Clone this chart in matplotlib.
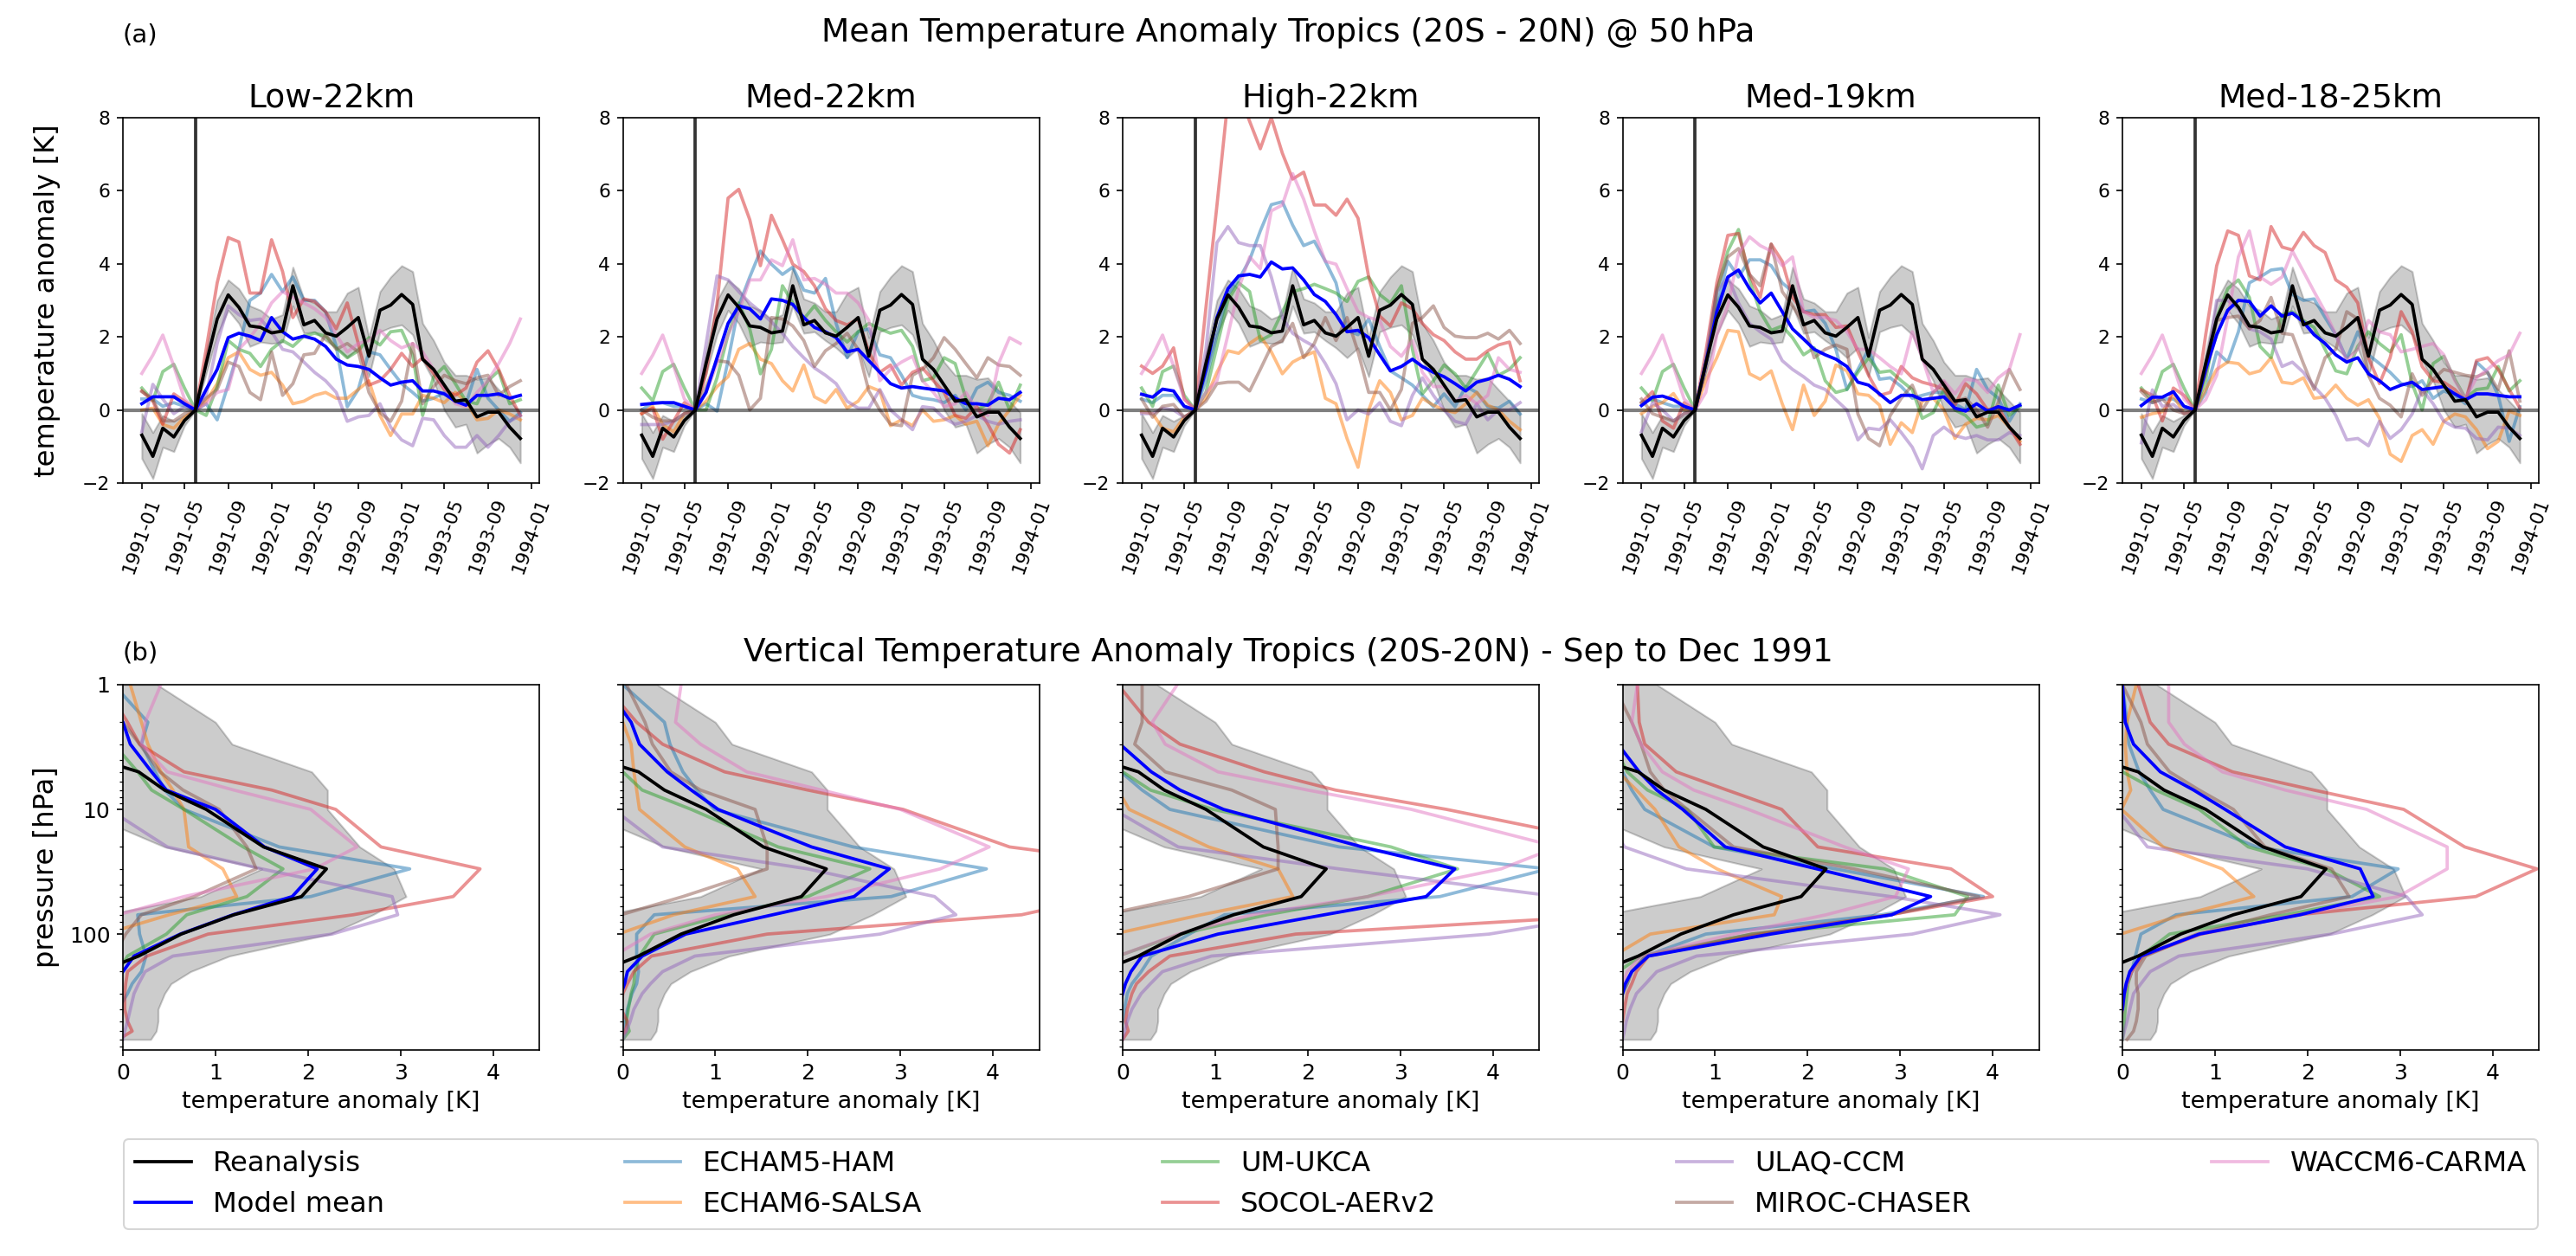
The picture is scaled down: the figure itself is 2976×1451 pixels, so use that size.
import matplotlib
matplotlib.use("Agg")
import matplotlib.pyplot as plt
import matplotlib.dates as mdates
from matplotlib.lines import Line2D
import pandas as pd

# ---------------- categories / labels ----------------
panel_titles = ["Low-22km", "Med-22km", "High-22km", "Med-19km", "Med-18-25km"]
model_names = ["ECHAM5-HAM", "ECHAM6-SALSA", "UM-UKCA", "SOCOL-AERv2",
               "ULAQ-CCM", "MIROC-CHASER", "WACCM6-CARMA"]
model_colors = ["#1f77b4", "#ff7f0e", "#2ca02c", "#d62728",
                "#9467bd", "#8c564b", "#e377c2"]
first_month = "1991-01-01"
n_months = 36
eruption_date = "1991-06-01"
plev = [1, 2, 3, 5, 7, 10, 20, 30, 50, 70, 100, 150, 200, 250, 300, 400, 500, 600, 700]

# ---------------- (a) 50 hPa time series ----------------
rean_50 = [-0.69, -1.27, -0.50, -0.74, -0.29, 0.00, 1.27, 2.49, 3.15, 2.81, 2.30, 2.26, 2.11, 2.16, 3.40, 2.33, 2.45, 2.11,
           2.02, 2.26, 2.53, 1.47, 2.73, 2.87, 3.16, 2.89, 1.39, 1.11, 0.68, 0.24, 0.28, -0.19, -0.06, -0.06, -0.47, -0.78]
rean_50_hi = [-0.10, -0.62, -0.15, -0.31, -0.15, 0.00, 1.58, 3.00, 3.56, 3.32, 2.85, 2.73, 2.49, 2.61, 3.91, 3.04, 2.93, 2.69,
              2.69, 3.20, 3.36, 1.98, 3.24, 3.64, 3.95, 3.79, 2.37, 1.90, 1.31, 0.95, 0.95, 0.84, 0.88, 0.56, 0.24, -0.07]
rean_50_lo = [-1.33, -1.88, -1.02, -1.14, -0.43, 0.00, 0.99, 2.06, 2.73, 2.37, 1.74, 1.86, 1.82, 1.86, 2.85, 2.10, 2.14, 1.90,
              1.70, 1.43, 1.70, 0.91, 2.14, 2.26, 2.33, 2.06, 1.35, 0.80, 0.00, -0.47, -0.39, -1.18, -0.94, -0.78, -1.02, -1.45]

low_mean = [0.17, 0.36, 0.36, 0.36, 0.17, 0.00, 0.56, 1.11, 1.98, 2.10, 2.02, 1.90, 2.53, 2.14, 1.94, 2.02, 1.94, 1.74,
            1.39, 1.23, 1.19, 1.11, 0.88, 0.68, 0.76, 0.80, 0.52, 0.52, 0.44, 0.24, 0.13, 0.40, 0.40, 0.44, 0.32, 0.40]
low_echam5 = [0.30, 0.30, 0.10, 0.20, 0.10, 0.00, 0.17, -0.27, 0.70, 1.66, 3.00, 3.20, 3.71, 3.24, 3.64, 3.00, 3.00, 2.69,
              1.74, 0.09, 0.56, 1.59, 1.51, 1.11, 0.72, 0.48, 0.24, 0.32, 0.48, 0.24, 0.17, 1.11, 0.32, 0.00, -0.31, -0.07]
low_echam6 = [0.00, 0.05, -0.40, -0.50, -0.20, 0.00, 0.24, 0.72, 1.43, 1.59, 1.11, 0.95, 1.03, 0.68, 0.17, 0.24, 0.40, 0.48,
              0.32, 0.32, 0.56, 0.80, -0.15, -0.70, -0.11, -0.11, 0.40, 0.32, 0.20, 0.48, 0.24, -0.27, -0.23, 0.00, -0.11, -0.27]
low_ukca = [0.60, 0.25, 1.05, 1.25, 0.60, 0.00, -0.15, 0.64, 1.90, 1.66, 1.55, 1.19, 1.66, 1.90, 1.74, 2.02, 2.10, 2.02,
            1.70, 1.43, 1.62, 1.98, 1.78, 2.14, 2.18, 1.51, -0.15, 0.91, 1.19, 0.72, 0.24, 0.17, 0.80, 1.07, 0.17, 0.28]
low_socol = [0.52, 0.24, -0.39, 0.44, 0.24, 0.00, 1.66, 3.48, 4.72, 4.60, 3.20, 3.20, 4.66, 3.79, 2.53, 3.04, 2.97, 2.69,
             2.22, 2.93, 1.82, 0.68, 0.80, 1.11, 1.55, 1.19, 1.43, 0.99, 0.56, 0.40, 0.60, 1.31, 1.62, 1.11, 0.40, -0.15]
low_ulaq = [-0.60, 0.70, 0.30, -0.10, 0.10, 0.00, 0.40, 1.82, 2.85, 2.61, 2.45, 2.49, 2.14, 1.66, 1.59, 1.31, 1.03, 0.80,
            0.48, -0.31, -0.19, -0.15, 0.17, -0.47, -0.82, -0.98, -0.23, -0.27, -0.70, -1.02, -1.02, -0.70, -1.02, -0.70, -0.31, -0.15]
low_miroc = [0.50, 0.30, -0.30, -0.30, -0.10, 0.00, 0.32, 0.56, 1.31, 1.19, 0.48, 0.28, 1.59, 0.40, 0.72, 1.51, 1.55, 2.06,
             1.66, 1.82, 1.59, 0.48, -0.07, -0.31, 0.24, 1.82, 0.17, 0.64, 0.95, 0.80, 0.72, 0.88, 0.95, 0.40, 0.64, 0.80]
low_waccm = [1.00, 1.50, 2.05, 1.20, 0.30, 0.00, 0.17, 0.48, 0.56, 1.66, 1.98, 2.37, 2.93, 3.24, 3.08, 2.93, 2.77, 2.53,
             2.06, 1.59, 1.82, 1.90, 2.18, 1.90, 1.70, 1.82, 1.59, 1.11, 0.60, 0.17, 0.09, 0.48, 0.80, 1.27, 1.82, 2.49]

med_mean = [0.15, 0.18, 0.20, 0.20, 0.10, 0.00, 0.48, 1.43, 2.37, 2.85, 2.77, 2.49, 3.04, 3.00, 2.89, 2.53, 2.26, 2.14,
            1.98, 1.59, 1.66, 1.35, 1.03, 0.72, 0.60, 0.64, 0.60, 0.56, 0.52, 0.32, 0.17, 0.17, 0.13, 0.32, 0.28, 0.48]
med_echam5 = [0.00, 0.20, 0.20, 0.10, 0.10, 0.00, 0.17, -0.03, 1.35, 2.85, 3.64, 4.35, 3.99, 3.71, 3.91, 3.28, 3.20, 3.60,
              2.37, 1.43, 2.14, 2.22, 1.51, 1.43, 0.95, 0.40, 0.32, 0.28, 0.20, 0.40, 0.00, 0.60, 0.76, 0.48, 0.40, 0.24]
med_echam6 = [-0.10, 0.10, -0.40, -0.60, -0.10, 0.00, 0.24, 0.64, 0.91, 1.66, 1.82, 1.39, 1.27, 0.80, 0.52, 1.23, 0.36, 0.20,
              0.56, 0.05, 0.24, 0.64, 0.52, -0.43, -0.27, -0.43, 0.00, -0.31, -0.27, -0.15, -0.39, -0.31, -0.98, -0.39, 0.00, 0.40]
med_ukca = [0.60, 0.25, 1.05, 1.25, 0.60, 0.00, 0.00, 0.88, 2.06, 2.93, 2.22, 0.99, 1.66, 3.40, 2.93, 2.49, 2.85, 2.45,
            2.14, 1.86, 2.14, 2.37, 2.22, 2.10, 2.18, 1.74, 0.80, 0.88, 1.43, 1.27, 0.32, 0.00, 0.17, 0.76, 0.00, 0.68]
med_socol = [-0.10, 0.05, -0.80, -0.30, 0.20, 0.00, 1.00, 2.90, 5.80, 6.04, 5.21, 3.95, 5.33, 4.66, 3.99, 3.79, 3.40, 2.77,
             2.45, 2.33, 2.49, 1.59, 1.03, 1.23, 0.68, 1.03, 1.15, 0.80, 0.48, -0.15, -0.23, 0.09, -0.39, -0.94, -1.18, -0.54]
med_ulaq = [-0.40, -0.40, -0.40, -0.30, -0.10, 0.00, 1.80, 3.67, 3.56, 3.24, 2.93, 2.69, 2.41, 2.10, 1.74, 1.43, 1.15, 0.95,
            0.72, 0.24, 0.05, 0.05, 0.56, 0.00, -0.27, -0.54, 0.09, 0.05, -0.23, -0.39, -0.31, -0.15, -0.31, -0.39, -0.31, -0.27]
med_miroc = [0.00, -0.20, -0.30, -0.30, -0.10, 0.00, 0.64, 1.35, 1.31, 0.95, 0.00, 0.32, 2.53, 2.49, 2.30, 1.90, 1.19, 1.62,
             1.82, 2.10, 1.66, 0.52, 0.00, -0.39, -0.43, 0.95, 1.11, 1.43, 1.98, 1.66, 1.27, 0.88, 1.43, 1.23, 1.19, 0.95]
med_waccm = [1.00, 1.50, 2.05, 1.20, 0.30, 0.00, 0.48, 1.27, 2.06, 2.69, 3.56, 3.56, 4.11, 3.95, 4.66, 3.56, 3.60, 3.44,
             3.20, 3.20, 2.93, 2.45, 0.80, 1.11, 1.31, 1.47, 0.80, 0.48, 0.09, 0.17, 0.48, 0.00, -0.15, 1.27, 1.98, 1.82]

high_mean = [0.43, 0.35, 0.57, 0.52, 0.10, 0.00, 1.11, 2.53, 3.32, 3.67, 3.71, 3.64, 4.05, 3.86, 3.89, 3.56, 3.16, 2.97,
             2.61, 2.14, 2.18, 1.98, 1.51, 1.07, 1.19, 1.39, 1.19, 1.03, 0.91, 0.72, 0.52, 0.76, 0.84, 0.95, 0.84, 0.64]
high_echam5 = [0.30, 0.20, 0.40, 0.40, 0.10, 0.00, 0.80, 2.06, 3.16, 3.56, 4.11, 4.90, 5.62, 5.70, 5.06, 4.50, 4.62, 4.07,
               3.48, 2.18, 2.06, 2.49, 1.74, 1.07, 0.88, 0.68, 0.40, 0.09, 0.44, 0.09, 0.64, 0.48, 0.09, 0.05, 0.24, -0.11]
high_echam6 = [-0.05, -0.10, -0.50, -0.60, -0.20, 0.00, 0.32, 1.03, 1.62, 1.55, 1.82, 2.02, 1.59, 0.99, 1.31, 1.47, 1.59, 0.32,
               0.17, -0.78, -1.57, 0.00, 0.80, 0.48, -0.27, -0.15, 0.32, 0.13, 0.00, -0.07, 0.17, 0.48, 0.13, 0.00, -0.31, -0.54]
high_ukca = [0.60, 0.10, 1.05, 1.20, 0.40, 0.00, 0.48, 1.74, 3.00, 3.48, 3.24, 1.90, 2.06, 2.69, 3.24, 3.32, 3.44, 3.32,
             3.20, 2.97, 3.52, 3.64, 3.16, 2.93, 3.40, 1.66, 0.44, 0.80, 1.23, 0.99, 0.60, 1.07, 1.55, 0.95, 1.11, 1.43]
high_socol = [1.20, 1.00, 1.20, 1.70, 0.30, 0.00, 2.80, 5.60, 8.50, 8.70, 7.90, 7.15, 8.00, 7.03, 6.32, 6.51, 5.61, 5.61,
              5.33, 5.77, 5.25, 3.64, 2.57, 2.30, 2.93, 2.77, 2.37, 2.06, 1.90, 1.59, 1.39, 1.39, 1.62, 1.78, 1.86, 0.80]
high_ulaq = [-0.10, -0.10, 0.05, 0.00, -0.20, 0.00, 1.66, 4.58, 5.02, 4.58, 4.50, 4.50, 3.64, 2.53, 2.10, 1.90, 1.74, 1.27,
             0.72, -0.27, 0.00, -0.11, 0.20, -0.31, -0.43, 0.40, 0.88, 0.40, 0.00, -0.31, -0.39, 0.17, -0.27, 0.00, 0.00, 0.20]
high_miroc = [0.30, -0.20, 0.10, 0.15, -0.20, 0.00, 0.24, 0.72, 0.76, 0.76, 0.52, 1.11, 1.74, 1.90, 2.37, 1.43, 1.82, 2.53,
              1.90, 2.53, 1.59, 0.48, 0.48, 0.00, 0.56, 2.37, 2.53, 2.85, 2.26, 2.02, 1.98, 1.98, 2.10, 1.94, 2.18, 1.82]
high_waccm = [1.00, 1.50, 2.05, 1.20, 0.30, 0.00, 0.48, 0.80, 2.06, 3.32, 4.19, 3.87, 5.45, 5.61, 6.47, 5.77, 4.90, 4.07,
              3.99, 3.32, 2.69, 2.53, 2.45, 1.74, 1.47, 1.90, 1.03, 0.64, 0.64, 0.24, 0.40, 0.17, 0.40, 1.43, 1.11, 1.03]

m19_mean = [0.12, 0.35, 0.38, 0.28, 0.10, 0.00, 1.27, 2.69, 3.64, 3.83, 3.32, 2.93, 3.20, 2.69, 2.22, 1.94, 1.66, 1.51,
            1.39, 1.19, 0.76, 0.68, 0.44, 0.20, 0.40, 0.40, 0.28, 0.32, 0.36, 0.05, -0.03, 0.17, -0.03, 0.09, 0.00, 0.13]
m19_echam5 = [0.20, 0.30, 0.20, 0.10, 0.10, 0.00, 1.27, 2.85, 4.07, 3.64, 4.11, 4.11, 3.95, 3.48, 3.24, 2.69, 2.73, 2.37,
              1.66, 0.56, 1.11, 1.66, 0.84, 0.88, 0.64, 0.32, 0.40, 0.48, 0.48, 0.17, 0.00, 1.11, 0.56, 0.32, -0.31, 0.17]
m19_echam6 = [-0.10, 0.10, 0.20, 0.45, 0.00, 0.00, 0.80, 1.43, 2.18, 2.14, 0.99, 0.84, 1.07, 0.17, -0.54, 0.68, -0.15, 0.24,
              1.23, 1.07, 0.44, 0.40, 0.13, -0.94, -0.35, -0.62, 0.24, 0.32, 0.00, -0.78, -0.39, -0.23, -0.27, -0.15, -0.47, -0.86]
m19_ukca = [0.60, 0.25, 1.05, 1.25, 0.60, 0.00, 1.27, 3.24, 4.35, 4.94, 3.56, 2.69, 2.18, 2.30, 1.98, 1.51, 1.70, 0.80,
            0.48, 0.56, 1.03, 1.43, 1.03, 1.07, 0.80, 0.56, -0.23, -0.07, 0.56, 0.00, -0.15, -0.47, -0.39, 0.68, -0.15, 0.09]
m19_socol = [0.20, 0.50, -0.30, -0.50, 0.20, 0.00, 1.59, 3.48, 4.78, 4.83, 3.71, 3.08, 4.54, 4.07, 3.08, 2.69, 2.61, 2.61,
             2.26, 2.30, 1.59, 0.95, 0.40, 0.48, 1.19, 0.88, 0.76, 0.68, 0.56, 0.13, 0.72, 0.44, 0.00, 0.09, -0.47, -0.94]
m19_ulaq = [-0.60, 0.20, 0.00, -0.30, -0.10, 0.00, 1.43, 3.24, 3.64, 2.93, 2.37, 2.14, 1.94, 1.35, 1.11, 0.91, 0.68, 0.56,
            0.28, 0.00, -0.82, -0.50, -0.54, -0.27, -0.62, -1.02, -1.61, -0.70, -0.47, -0.70, -0.78, -0.70, -0.82, -0.82, -0.62, -0.70]
m19_miroc = [0.30, -0.10, -0.20, -0.30, -0.10, 0.00, 1.11, 3.32, 4.19, 4.42, 3.71, 3.40, 4.54, 3.24, 2.85, 2.37, 1.43, 1.66,
             1.78, 1.66, -0.11, -0.78, -0.98, -0.15, 0.32, 0.68, 0.00, 0.48, 0.76, 0.24, 0.32, 0.00, -0.47, 0.20, 1.11, 0.56]
m19_waccm = [1.00, 1.50, 2.05, 1.20, 0.30, 0.00, 0.48, 2.06, 2.85, 4.27, 4.74, 4.50, 4.35, 3.95, 4.19, 2.69, 2.53, 2.53,
             2.45, 2.14, 1.66, 1.66, 1.43, 1.19, 0.99, 2.14, 1.43, 0.48, 0.80, 0.44, 0.84, 0.80, 0.48, 0.88, 1.11, 2.06]

m1825_mean = [0.12, 0.35, 0.35, 0.50, 0.10, 0.00, 1.11, 2.06, 2.73, 3.00, 2.97, 2.57, 2.85, 2.57, 2.65, 2.41, 2.06, 1.82,
              1.51, 1.31, 1.43, 0.99, 0.80, 0.56, 0.68, 0.76, 0.56, 0.60, 0.64, 0.44, 0.28, 0.44, 0.44, 0.40, 0.36, 0.36]
m1825_echam5 = [0.30, 0.20, 0.30, 0.30, 0.10, 0.00, 0.48, 1.59, 1.31, 2.14, 3.48, 3.64, 3.83, 3.87, 3.16, 3.00, 3.04, 2.53,
                2.06, 1.39, 2.14, 1.51, 1.27, 1.03, 0.72, 0.64, 0.80, 0.32, 0.52, 0.40, 0.17, 1.31, 1.03, 0.40, -0.86, 0.09]
m1825_echam6 = [-0.20, -0.10, -0.05, 0.40, -0.10, 0.00, 0.56, 1.11, 1.31, 1.27, 0.99, 1.07, 1.43, 0.76, 0.72, 0.88, 0.32, 0.36,
                0.68, 0.32, 0.13, 0.28, -0.23, -1.21, -1.41, -0.70, -0.54, -0.94, -0.31, -0.11, -0.19, -0.54, -1.06, -0.86, -0.03, -0.15]
m1825_ukca = [0.60, 0.25, 1.05, 1.25, 0.60, 0.00, 0.80, 2.53, 3.32, 3.56, 3.08, 1.74, 1.43, 2.61, 2.69, 2.45, 2.26, 1.66,
              1.07, 0.99, 1.74, 2.14, 1.82, 1.59, 2.06, 0.72, 0.00, 1.27, 1.47, 0.84, 0.32, 0.56, 0.60, 1.19, 0.52, 0.80]
m1825_socol = [0.55, 0.40, -0.30, 0.60, 0.40, 0.00, 2.06, 3.95, 4.90, 4.78, 3.67, 3.56, 5.02, 4.46, 4.38, 4.86, 4.50, 4.31,
               3.56, 3.36, 2.93, 1.43, 0.72, 1.43, 2.69, 2.14, 1.19, 0.80, 0.76, 0.56, 0.24, 1.35, 1.43, 1.11, 0.56, 0.05]
m1825_ulaq = [-0.90, 0.55, 0.10, 0.15, -0.10, 0.00, 1.03, 3.00, 3.00, 2.77, 2.22, 2.14, 1.94, 1.19, 1.31, 1.03, 0.64, 0.32,
              -0.15, -0.82, -0.78, -0.98, -0.31, -0.78, -0.54, -0.11, 0.56, 0.17, -0.31, -0.47, -0.50, -0.78, -0.82, -0.47, -0.50, -0.70]
m1825_miroc = [0.50, 0.20, 0.30, 0.00, -0.10, 0.00, 1.03, 2.45, 2.53, 2.57, 2.22, 2.45, 3.08, 2.10, 2.06, 1.27, 0.56, 1.43,
               1.66, 2.69, 2.49, 0.95, 0.32, 0.13, -0.19, 0.99, 0.40, 0.84, 1.11, 1.03, 0.95, 0.91, 1.03, 0.56, 1.62, 0.24]
m1825_waccm = [1.00, 1.50, 2.05, 1.20, 0.30, 0.00, 0.28, 0.95, 2.53, 4.19, 4.90, 3.64, 3.44, 3.64, 4.35, 3.79, 3.24, 2.69,
               2.06, 1.35, 1.66, 2.45, 2.14, 2.06, 1.59, 1.66, 1.74, 1.82, 1.51, 0.80, 0.32, 0.88, 1.11, 1.35, 1.51, 2.10]

# ---------------- (b) vertical profiles (Sep-Dec 1991) ----------------
rean_prof = [-1.0, -1.0, -0.8, 0.17, 0.45, 0.90, 1.52, 2.20, 1.93, 1.20, 0.63, 0.17, -0.25, -0.3, -0.3, -0.3, -0.3, -0.3, -0.3]
rean_prof_hi = [0.37, 1.00, 1.18, 2.04, 2.21, 2.21, 2.56, 2.93, 3.06, 2.70, 2.24, 1.15, 0.73, 0.52, 0.45, 0.38, 0.38, 0.36, 0.30]
rean_prof_lo = [-1.5, -1.5, -1.5, -1.3, -0.9, -0.5, 0.45, 1.50, 0.84, -0.2, -1.5, -1.5, -1.5, -1.5, -1.5, -1.5, -1.5, -1.5, -1.5]

lowp_mean = [-0.3, 0.0, 0.08, 0.31, 0.47, 1.00, 1.53, 2.10, 1.83, 1.19, 0.62, 0.12, 0.0, -0.1, -0.1, -0.1, -0.1, -0.1, -0.1]
lowp_echam5 = [-0.1, 0.27, 0.20, 0.35, 0.45, 0.66, 1.69, 3.10, 2.03, 0.16, 0.18, 0.25, 0.20, 0.10, 0.05, -0.05, -0.1, -0.1, -0.1]
lowp_echam6 = [0.08, 0.20, 0.27, 0.41, 0.54, 0.66, 0.71, 1.08, 1.23, 0.50, -0.2, -0.3, -0.3, -0.3, -0.3, -0.3, -0.3, -0.3, -0.3]
lowp_ukca = [-0.5, -0.4, -0.1, 0.16, 0.31, 0.66, 1.30, 1.73, 1.34, 0.69, 0.47, 0.05, -0.05, -0.05, -0.05, -0.05, -0.05, -0.05, -0.05]
lowp_socol = [-0.2, 0.05, 0.18, 0.66, 1.61, 2.30, 2.79, 3.86, 3.57, 2.49, 0.92, 0.26, 0.05, 0.03, 0.02, 0.02, 0.05, 0.10, -0.05]
lowp_ulaq = [-1.0, -1.0, -0.8, -0.5, -0.3, -0.15, 0.48, 1.50, 2.91, 2.97, 2.26, 0.54, 0.24, 0.17, 0.12, 0.08, 0.05, 0.02, 0.0]
lowp_miroc = [-0.2, 0.0, 0.18, 0.40, 0.65, 1.04, 1.34, 1.44, 0.77, 0.20, 0.03, -0.1, -0.1, -0.1, -0.1, -0.1, -0.1, -0.1, -0.1]
lowp_waccm = [0.41, 0.24, 0.20, 0.48, 1.20, 2.03, 2.53, 2.07, 0.66, -0.05, -0.2, -0.2, -0.2, -0.2, -0.2, -0.2, -0.2, -0.2, -0.2]

medp_mean = [-0.2, 0.09, 0.18, 0.48, 0.74, 1.03, 2.04, 2.88, 2.50, 1.62, 0.68, 0.21, 0.05, 0.02, -0.02, -0.1, -0.1, -0.1, -0.1]
medp_echam5 = [0.0, 0.45, 0.51, 0.65, 0.80, 0.99, 2.49, 3.93, 2.90, 0.34, 0.15, 0.15, 0.17, 0.15, 0.10, 0.05, 0.03, 0.0, -0.02]
medp_echam6 = [-0.2, 0.0, 0.09, 0.12, 0.15, 0.18, 0.67, 1.24, 1.43, 0.55, -0.05, -0.2, -0.2, -0.2, -0.2, -0.2, -0.2, -0.2, -0.2]
medp_ukca = [-0.5, -0.3, -0.1, 0.0, 0.21, 0.74, 1.68, 2.67, 2.00, 1.12, 0.34, 0.18, 0.13, 0.12, 0.09, 0.06, 0.04, 0.07, 0.0]
medp_socol = [-0.2, 0.15, 0.43, 1.10, 2.00, 3.03, 4.18, 6.00, 5.20, 4.31, 1.56, 0.31, 0.12, 0.05, 0.0, -0.02, 0.05, 0.03, -0.05]
medp_ulaq = [-1.0, -1.0, -0.8, -0.5, -0.3, -0.1, 0.43, 2.00, 3.37, 3.60, 2.78, 0.78, 0.43, 0.30, 0.21, 0.12, 0.08, 0.04, 0.0]
medp_miroc = [0.04, 0.24, 0.32, 0.52, 0.84, 1.43, 1.56, 1.56, 0.65, -0.02, -0.3, -0.3, -0.3, -0.3, -0.3, -0.3, -0.3, -0.3, -0.3]
medp_waccm = [0.63, 0.57, 0.84, 1.34, 2.15, 3.00, 3.96, 3.43, 2.20, 1.00, 0.30, -0.1, -0.2, -0.2, -0.2, -0.2, -0.2, -0.2, -0.2]

highp_mean = [-0.3, -0.2, -0.03, 0.31, 0.62, 1.09, 2.59, 3.59, 3.28, 2.18, 1.03, 0.21, 0.09, 0.03, 0.0, -0.05, -0.05, -0.05, -0.05]
highp_echam5 = [-0.4, -0.3, -0.2, -0.02, 0.21, 0.51, 2.34, 4.60, 3.43, 1.10, 0.72, 0.31, 0.20, 0.10, 0.05, 0.02, 0.0, -0.02, -0.05]
highp_echam6 = [-0.5, -0.5, -0.4, -0.2, -0.05, 0.07, 0.93, 1.68, 1.84, 0.85, -0.1, -0.2, -0.2, -0.2, -0.2, -0.2, -0.2, -0.2, -0.2]
highp_ukca = [-0.5, -0.3, -0.1, 0.0, 0.30, 0.98, 2.90, 3.62, 2.65, 1.56, 0.62, -0.05, -0.1, -0.1, -0.1, -0.1, -0.1, -0.1, -0.1]
highp_socol = [-0.05, 0.28, 0.62, 1.53, 2.30, 3.50, 5.50, 7.00, 6.50, 5.40, 1.87, 0.51, 0.28, 0.15, 0.10, 0.05, 0.03, 0.06, 0.0]
highp_ulaq = [-1.0, -1.0, -0.8, -0.5, -0.3, -0.1, 0.60, 2.34, 4.70, 5.24, 3.96, 0.96, 0.43, 0.30, 0.20, 0.10, 0.05, 0.02, 0.0]
highp_miroc = [0.21, 0.21, 0.13, 0.46, 1.18, 1.65, 1.68, 1.68, 0.71, -0.2, -0.3, -0.3, -0.3, -0.3, -0.3, -0.3, -0.3, -0.3, -0.3]
highp_waccm = [0.59, 0.32, 0.46, 1.03, 2.00, 3.12, 4.70, 4.09, 2.65, 1.40, 0.60, -0.05, -0.1, -0.1, -0.1, -0.1, -0.1, -0.1, -0.1]

m19p_mean = [-0.3, -0.2, -0.05, 0.18, 0.37, 0.65, 1.11, 2.10, 3.33, 2.91, 1.60, 0.28, 0.10, 0.03, 0.0, -0.05, -0.05, -0.05, -0.05]
m19p_echam5 = [-0.5, -0.4, -0.2, 0.0, 0.10, 0.24, 0.99, 2.30, 3.90, 2.80, 0.90, 0.25, 0.10, 0.05, 0.0, -0.05, -0.05, -0.05, -0.05]
m19p_echam6 = [-0.4, -0.3, -0.2, -0.05, 0.15, 0.35, 0.61, 1.02, 1.72, 1.64, 0.30, -0.1, -0.2, -0.2, -0.2, -0.2, -0.2, -0.2, -0.2]
m19p_ukca = [-0.5, -0.3, -0.1, 0.05, 0.27, 0.70, 0.99, 2.83, 3.73, 3.59, 1.40, 0.20, -0.05, -0.05, -0.05, -0.05, -0.05, -0.05, -0.05]
m19p_socol = [0.16, 0.18, 0.24, 0.58, 1.13, 1.72, 2.11, 3.55, 4.00, 2.89, 1.50, 0.28, 0.15, 0.10, 0.05, 0.02, 0.0, -0.02, -0.05]
m19p_ulaq = [-1.0, -1.0, -0.8, -0.6, -0.4, -0.2, 0.02, 0.69, 2.90, 4.08, 3.13, 0.80, 0.37, 0.25, 0.15, 0.08, 0.04, 0.02, 0.0]
m19p_miroc = [-0.1, 0.10, 0.20, 0.30, 0.45, 0.70, 1.20, 2.50, 3.85, 2.90, 1.40, 0.25, 0.10, 0.05, 0.0, -0.05, -0.05, -0.05, -0.05]
m19p_waccm = [0.16, 0.10, 0.20, 0.43, 0.77, 1.36, 2.40, 3.09, 2.95, 2.20, 1.20, 0.20, 0.05, 0.0, -0.05, -0.05, -0.05, -0.05, -0.05]

m1825p_mean = [0.0, 0.03, 0.12, 0.41, 0.77, 1.11, 1.76, 2.57, 2.71, 1.92, 0.83, 0.20, 0.08, 0.04, 0.02, 0.0, -0.05, -0.05, -0.05]
m1825p_echam5 = [0.0, 0.05, 0.07, 0.18, 0.30, 0.44, 1.45, 2.98, 2.48, 0.58, 0.20, 0.14, 0.10, 0.05, 0.02, 0.0, -0.02, -0.02, -0.03]
m1825p_echam6 = [0.15, 0.05, 0.03, 0.05, 0.09, -0.01, 0.44, 1.08, 1.42, 0.65, -0.02, -0.2, -0.3, -0.3, -0.3, -0.3, -0.3, -0.3, -0.3]
m1825p_ukca = [-0.3, -0.2, -0.05, 0.0, 0.36, 0.83, 1.36, 2.20, 2.78, 1.76, 0.51, 0.20, 0.10, 0.06, 0.05, 0.03, 0.02, 0.01, 0.0]
m1825p_socol = [0.17, 0.30, 0.50, 1.19, 2.07, 3.04, 3.70, 4.48, 3.82, 1.90, 0.85, 0.22, 0.10, 0.05, 0.02, 0.0, -0.02, -0.02, -0.05]
m1825p_ulaq = [-1.0, -1.0, -0.8, -0.5, -0.3, -0.05, 0.27, 2.00, 3.07, 3.24, 2.26, 0.61, 0.30, 0.20, 0.12, 0.08, 0.05, 0.02, 0.0]
m1825p_miroc = [0.0, 0.20, 0.27, 0.51, 0.83, 1.20, 1.54, 2.26, 2.45, 1.60, 0.80, 0.25, 0.15, 0.15, 0.17, 0.17, 0.15, 0.12, 0.05]
m1825p_waccm = [0.50, 0.50, 0.67, 1.08, 1.76, 2.64, 3.51, 3.51, 2.98, 1.90, 0.83, 0.20, 0.10, 0.05, 0.02, 0.0, -0.02, -0.02, -0.03]

# ---------------- assemble ----------------
ts_means = [low_mean, med_mean, high_mean, m19_mean, m1825_mean]
ts_models = [
    [low_echam5, low_echam6, low_ukca, low_socol, low_ulaq, low_miroc, low_waccm],
    [med_echam5, med_echam6, med_ukca, med_socol, med_ulaq, med_miroc, med_waccm],
    [high_echam5, high_echam6, high_ukca, high_socol, high_ulaq, high_miroc, high_waccm],
    [m19_echam5, m19_echam6, m19_ukca, m19_socol, m19_ulaq, m19_miroc, m19_waccm],
    [m1825_echam5, m1825_echam6, m1825_ukca, m1825_socol, m1825_ulaq, m1825_miroc, m1825_waccm],
]
pr_means = [lowp_mean, medp_mean, highp_mean, m19p_mean, m1825p_mean]
pr_models = [
    [lowp_echam5, lowp_echam6, lowp_ukca, lowp_socol, lowp_ulaq, lowp_miroc, lowp_waccm],
    [medp_echam5, medp_echam6, medp_ukca, medp_socol, medp_ulaq, medp_miroc, medp_waccm],
    [highp_echam5, highp_echam6, highp_ukca, highp_socol, highp_ulaq, highp_miroc, highp_waccm],
    [m19p_echam5, m19p_echam6, m19p_ukca, m19p_socol, m19p_ulaq, m19p_miroc, m19p_waccm],
    [m1825p_echam5, m1825p_echam6, m1825p_ukca, m1825p_socol, m1825p_ulaq, m1825p_miroc, m1825p_waccm],
]

dates = pd.date_range(first_month, periods=n_months, freq="MS")
eruption = pd.Timestamp(eruption_date)

FW, FH, DPI = 2976, 1451, 150
fig = plt.figure(figsize=(FW / DPI, FH / DPI), dpi=DPI)
L, STEP, W = 142 / FW, 577.5 / FW, 481 / FW
H = 422 / FH
TOP_B = 1 - 558 / FH
BOT_B = 1 - 1213 / FH

LW = 1.8
for i in range(5):
    ax = fig.add_axes([L + i * STEP, TOP_B, W, H])
    ax.fill_between(dates, rean_50_lo, rean_50_hi, color="k", alpha=0.2)
    for vals, col in zip(ts_models[i], model_colors):
        ax.plot(dates, vals, color=col, alpha=0.5, lw=LW)
    ax.axhline(0, color="k", alpha=0.5, lw=2.0)
    ax.plot(dates, ts_means[i], color="blue", lw=LW)
    ax.plot(dates, rean_50, color="k", lw=LW)
    ax.axvline(eruption, color="k", alpha=0.8, lw=1.8)
    ax.set_ylim(-2, 8)
    ax.set_yticks([-2, 0, 2, 4, 6, 8])
    ax.xaxis.set_major_locator(mdates.MonthLocator(bymonth=(1, 5, 9)))
    ax.xaxis.set_major_formatter(mdates.DateFormatter("%Y-%m"))
    ax.tick_params(labelsize=10.5)
    for lab in ax.get_xticklabels():
        lab.set_rotation(70)
    ax.set_title(panel_titles[i], fontsize=18)
    if i == 0:
        ax.set_ylabel("temperature anomaly [K]", fontsize=15.5, labelpad=12)

for i in range(5):
    ax = fig.add_axes([L + i * STEP, BOT_B, W, H])
    ax.fill_betweenx(plev, rean_prof_lo, rean_prof_hi, color="k", alpha=0.2)
    for vals, col in zip(pr_models[i], model_colors):
        ax.plot(vals, plev, color=col, alpha=0.5, lw=LW)
    ax.plot(pr_means[i], plev, color="blue", lw=LW)
    ax.plot(rean_prof, plev, color="k", lw=LW)
    ax.set_yscale("log")
    ax.set_ylim(850, 1)
    ax.set_xlim(0, 4.5)
    ax.set_xticks([0, 1, 2, 3, 4])
    ax.set_yticks([1, 10, 100])
    ax.tick_params(labelsize=12)
    if i == 0:
        ax.set_yticklabels(["1", "10", "100"])
        ax.set_ylabel("pressure [hPa]", fontsize=15.5, labelpad=5)
    else:
        ax.set_yticklabels([])
    ax.yaxis.set_minor_formatter(matplotlib.ticker.NullFormatter())
    ax.set_xlabel("temperature anomaly [K]", fontsize=13)

fig.text(0.5, 1 - 38 / FH, "Mean Temperature Anomaly Tropics (20S - 20N) @ 50\u2009hPa",
         ha="center", va="center", fontsize=18)
fig.text(L, 1 - 40 / FH, "(a)", ha="left", va="center", fontsize=14)
fig.text(0.5, 1 - 754 / FH, "Vertical Temperature Anomaly Tropics (20S-20N) - Sep to Dec 1991",
         ha="center", va="center", fontsize=18)
fig.text(L, 1 - 754 / FH, "(b)", ha="left", va="center", fontsize=14)

handles = [Line2D([], [], color="k", lw=LW), Line2D([], [], color="blue", lw=LW)]
handles += [Line2D([], [], color=c, alpha=0.5, lw=LW) for c in model_colors]
labels = ["Reanalysis", "Model mean"] + model_names
fig.legend(handles, labels, loc="upper left", ncol=5, mode="expand",
           bbox_to_anchor=(143 / FW, 1 - 1316 / FH, 2789 / FW, 0),
           borderaxespad=0, fontsize=15.5)

fig.savefig("out.png", dpi=DPI)
